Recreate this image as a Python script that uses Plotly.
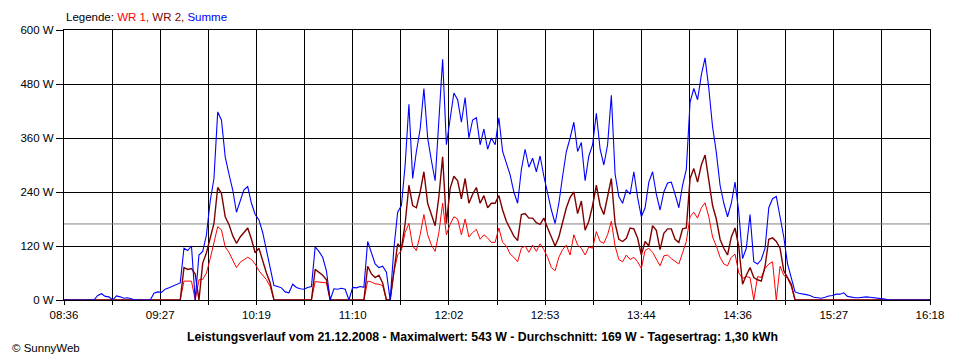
import plotly.graph_objects as go

# ---------------- data ----------------
START = "08:36"          # first sample
STEP_MIN = 2             # sampling step in minutes
END = "16:18"            # end of the time axis

TICK_LABELS = ["08:36", "09:27", "10:19", "11:10", "12:02",
               "12:53", "13:44", "14:36", "15:27", "16:18"]
Y_TICKS = [0, 120, 240, 360, 480, 600]
AVERAGE_W = 169

summe = [0, 0, 0, 0, 0, 0, 0, 0,
         0, 10, 14, 8, 7, 0, 9, 7, 4, 5, 3,
         0, 0, 0, 0, 0,
         15, 18, 17, 24, 27, 31, 35, 38,
         115, 110, 120, 0, 100, 108, 145, 220, 270,
         418, 400, 318, 280, 245, 195, 222, 245, 252, 215, 190, 178, 150, 110, 70,
         32, 30, 27, 18, 16, 35, 28, 25, 24, 28, 30,
         118, 108, 95, 65,
         0, 25, 24, 26, 24, 0, 28, 27, 30, 28,
         130, 105, 80, 72, 75, 62, 0,
         115, 195, 210, 300, 435, 270, 330, 380, 470, 360, 310, 265, 400,
         535, 345, 405, 460, 445, 395, 450, 360, 400, 405, 345, 380, 335, 360, 345, 405, 330, 305, 278, 240,
         215, 290, 335, 295, 315, 285, 320, 275, 235, 200, 170, 215, 275, 330, 360, 395, 330, 350, 265, 320,
         345, 415, 335, 300, 345, 455, 280, 230, 215, 245, 235, 285, 228, 185, 205, 262, 285, 235, 200, 240,
         260, 262, 235, 205, 255, 290, 440, 470, 445, 500, 538, 470, 385, 328, 255, 215, 185, 215, 262, 195,
         92, 115, 190, 85, 80, 90, 115, 205, 225, 230, 185, 140, 80, 50,
         18, 15, 14, 12, 10, 6, 5, 4, 6, 9, 10, 13, 13, 16, 8, 6, 5, 5, 6, 7, 6, 5, 4, 4, 2,
         0, 0, 0, 0, 0, 0, 0, 0, 0, 0, 0, 0]

wr2 = [0] * 32 + [
         72, 68, 70, 58, 0, 82, 105, 140, 170,
         250, 237, 185, 168, 143, 126, 140, 150, 160, 135, 105, 115, 85, 60, 38,
         0, 0, 0, 0, 0, 0, 0, 0, 0, 0, 0,
         68, 62, 55, 45,
         0, 0, 0, 0, 0, 0, 0, 0, 0, 0,
         75, 58, 50, 55, 38, 0, 0,
         65, 125, 115, 170, 255, 210, 205, 240, 285, 215, 190, 165, 230,
         318, 170, 248, 275, 265, 225, 270, 215, 235, 250, 215, 232, 205, 215, 215, 232, 200, 175, 160, 142,
         132, 190, 192, 182, 182, 172, 168, 182, 160, 140, 120, 140, 170, 205, 228, 240, 192, 220, 155, 175,
         210, 255, 210, 190, 230, 270, 170, 135, 130, 137, 160, 158, 138, 100, 130, 120, 165, 155, 112, 148,
         158, 158, 135, 128, 158, 160, 270, 292, 262, 300, 322, 268, 210, 180, 135, 115, 100, 140, 160, 118,
         35, 55, 72, 50, 45, 42, 75, 135, 138, 130, 115, 65, 50, 35] + [0] * 37

wr1 = [0] * 32 + [
         42, 42, 42, 0, 45, 46, 60, 92, 125,
         163, 156, 118, 106, 90, 72, 84, 90, 95, 90, 80, 65, 55, 45, 30,
         0, 0, 0, 0, 0, 0, 0, 0, 0, 0, 0,
         41, 40, 38, 38,
         0, 0, 0, 0, 0, 0, 0, 0, 0, 0,
         42, 40, 36, 35, 32, 0, 0,
         62, 100, 110, 150, 170, 120, 110, 145, 190, 145, 122, 108, 150,
         215, 145, 168, 185, 180, 145, 180, 140, 150, 157, 135, 145, 138, 128, 128, 160, 128, 120, 102, 95,
         85, 115, 120, 106, 122, 108, 125, 112, 95, 72, 65, 95, 112, 122, 100, 145, 122, 115, 100, 118,
         115, 152, 130, 126, 145, 175, 120, 90, 85, 100, 90, 95, 85, 70, 110, 115, 106, 90, 76, 98,
         100, 92, 85, 80, 105, 130, 185, 195, 182, 205, 216, 185, 140, 120, 95, 80, 76, 95, 102, 60,
         48, 52, 50, 0, 52, 50, 70, 80, 85, 0, 75, 55, 48, 30] + [0] * 37


def to_min(hhmm):
    h, m = hhmm.split(":")
    return int(h) * 60 + int(m)


t0 = to_min(START)
t_end = to_min(END)
times = [t0 + i * STEP_MIN for i in range(len(summe))]
time_labels = ["%02d:%02d" % (t // 60, t % 60) for t in times]

# gridlines: every half of a labelled tick interval
n_grid = 2 * (len(TICK_LABELS) - 1)
grid_vals = [t0 + (t_end - t0) * i / n_grid for i in range(n_grid + 1)]
grid_text = [TICK_LABELS[i // 2] if i % 2 == 0 else "" for i in range(n_grid + 1)]

FONT = "Liberation Sans, Arial, sans-serif"

fig = go.Figure()
fig.add_trace(go.Scatter(x=[t0, t_end], y=[AVERAGE_W, AVERAGE_W], mode="lines",
                         line=dict(color="#808080", width=1), hoverinfo="skip",
                         showlegend=False))
fig.add_trace(go.Scatter(x=times, y=wr1, mode="lines", name="WR 1",
                         line=dict(color="#FF0000", width=1), text=time_labels))
fig.add_trace(go.Scatter(x=times, y=wr2, mode="lines", name="WR 2",
                         line=dict(color="#800000", width=1.4), text=time_labels))
fig.add_trace(go.Scatter(x=times, y=summe, mode="lines", name="Summe",
                         line=dict(color="#0000FF", width=1.1), text=time_labels))

fig.update_layout(
    width=952, height=352,
    margin=dict(l=52, r=30, t=22, b=60),
    paper_bgcolor="white", plot_bgcolor="white",
    showlegend=False,
    font=dict(family=FONT, size=11, color="black"),
)
fig.update_xaxes(
    range=[t0, t_end], tickmode="array", tickvals=grid_vals, ticktext=grid_text,
    showgrid=True, gridcolor="black", gridwidth=1,
    showline=True, linecolor="black", linewidth=1, mirror=True,
    ticks="outside", ticklen=4, tickcolor="black", zeroline=False,
    tickfont=dict(family=FONT, size=11.5, color="black"),
)
fig.update_yaxes(
    range=[0, 600], tickmode="array", tickvals=Y_TICKS,
    ticktext=["%d W" % v for v in Y_TICKS],
    showgrid=True, gridcolor="black", gridwidth=1,
    showline=True, linecolor="black", linewidth=1, mirror=True,
    ticks="outside", ticklen=7, tickcolor="black", zeroline=False,
    tickfont=dict(family=FONT, size=11.5, color="black"),
)

fig.add_annotation(
    xref="paper", yref="paper", x=0, y=1.048, xanchor="left", yanchor="middle",
    showarrow=False, font=dict(family=FONT, size=11.5, color="black"),
    text="Legende: <span style='color:#FF0000'>WR 1, </span>"
         "<span style='color:#800000'>WR 2, </span>"
         "<span style='color:#0000FF'>Summe</span>",
)
fig.add_annotation(
    xref="paper", yref="paper", x=0.483, y=-0.137, xanchor="center", yanchor="middle",
    showarrow=False, font=dict(family=FONT, size=12.3, color="black"),
    text="<b>Leistungsverlauf vom 21.12.2008 - Maximalwert: 543 W - "
         "Durchschnitt: 169 W - Tagesertrag: 1,30 kWh</b>",
)
fig.add_annotation(
    xref="paper", yref="paper", x=-0.062, y=-0.178, xanchor="left", yanchor="middle",
    showarrow=False, font=dict(family=FONT, size=11.5, color="black"),
    text="© SunnyWeb",
)

fig.write_html("out.html")
